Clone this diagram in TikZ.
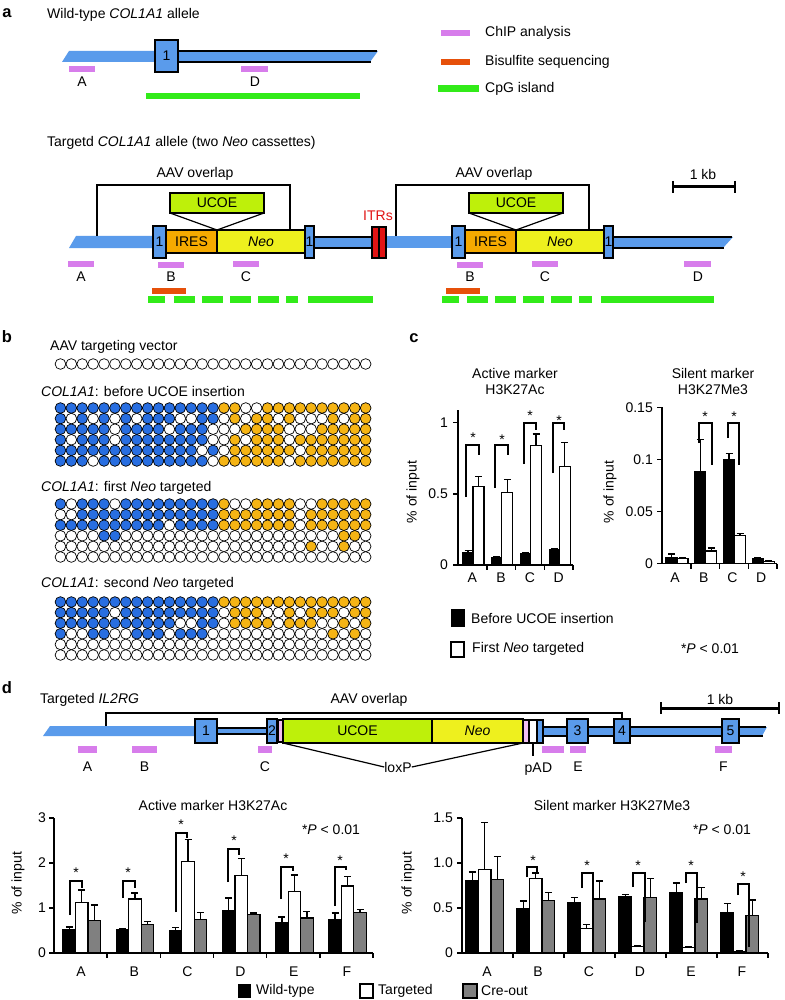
\documentclass[tikz,border=0pt]{standalone}
\usepackage{fontspec}
\setmainfont{Liberation Sans}
\definecolor{gblue}{RGB}{90,155,235}
\definecolor{chipc}{RGB}{215,125,235}
\definecolor{bisc}{RGB}{230,80,10}
\definecolor{cpgc}{RGB}{50,235,25}
\definecolor{ucoec}{RGB}{190,240,10}
\definecolor{neoc}{RGB}{238,240,30}
\definecolor{iresc}{RGB}{245,170,0}
\definecolor{itrc}{RGB}{225,20,20}
\definecolor{mblue}{RGB}{40,110,225}
\definecolor{morange}{RGB}{245,180,20}
\definecolor{barg}{RGB}{128,128,128}
\definecolor{loxc}{RGB}{240,190,240}
\newcommand\mybar[7]{%
  \pgfmathsetmacro\myyt{#3-#4*#5}%
  \pgfmathsetmacro\myye{#3-#4*#6}%
  \pgfmathsetmacro\myxl{#1}%
  \pgfmathsetmacro\myxc{#1+#2/2}%
  \pgfmathsetmacro\myxr{#1+#2}%
  \draw[errb] (\myxc,\myyt) -- (\myxc,\myye) (\myxc-3.5,\myye) -- (\myxc+3.5,\myye);%
  \draw[barb, fill=#7] (\myxl,#3) rectangle (\myxr,\myyt);%
}
\newcommand\sigbr[7]{%
  \draw[brk] (#1,#2) -- (#1,#3) -- (#4,#3) -- (#4,#5);%
  \node[txt] at (#6,#7+3) {*};%
}
\newcommand\mgrid[2]{%
  \foreach \row [count=\ri] in {#2} {%
    \foreach \v [count=\ci] in \row {%
      \ifnum\v=1\relax \ifnum\ci<16\relax \def\mycc{mblue}\else\def\mycc{morange}\fi\else\def\mycc{white}\fi
      \filldraw[fill=\mycc, cir] ({60.45+10.9*(\ci-1)},{#1+10.6*(\ri-1)}) circle[radius=5.35pt];
    }%
  }%
}
\begin{document}
\begin{tikzpicture}[x=1pt,y=-1pt,
  txt/.style={font=\fontsize{14}{16}\selectfont, inner sep=0pt},
  txtw/.style={txt, anchor=west},
  pnl/.style={font=\bfseries\fontsize{16.5}{18}\selectfont, inner sep=0pt},
  ol/.style={draw=black, line width=1.5pt},
  exon/.style={ol, fill=gblue},
  brk/.style={draw=black, line width=1.3pt},
  conn/.style={draw=black, line width=1.2pt},
  errb/.style={draw=black, line width=1.4pt},
  barb/.style={draw=black, line width=1.2pt},
  axl/.style={draw=black, line width=1.5pt},
  cir/.style={draw=black, line width=0.7pt}]
\useasboundingbox (0,0) rectangle (784,1000);
\fill[white] (0,0) rectangle (784,1000);

% ================= Panel a =================
\node[pnl] (la) at (7,13) {a};
\node[txtw] (wtt) at (47,15) {Wild-type \textit{COL1A1} allele};
\fill[gblue] (62,62) -- (69,51) -- (156,51) -- (156,62) -- cycle;
\fill[gblue] (178,51) -- (378,51) -- (370,62) -- (178,62) -- cycle;
\draw[ol] (178,51) -- (377,51) (178,62) -- (370.5,62);
\draw[exon] (155,40) rectangle (178,72);
\node[txt] (wex) at (166.5,56) {1};
\fill[chipc] (69,66) rectangle (95,72);
\node[txt] (wA) at (82,82) {A};
\fill[chipc] (241,66) rectangle (268,72);
\node[txt] (wD) at (255,82) {D};
\fill[cpgc] (146,93) rectangle (360,99);

% legend
\fill[chipc] (441,30) rectangle (470,36);
\node[txtw] (lg1) at (485,33) {ChIP analysis};
\fill[bisc] (441,59) rectangle (470,65);
\node[txtw] (lg2) at (485,62) {Bisulfite sequencing};
\fill[cpgc] (438,85) rectangle (479,92);
\node[txtw] (lg3) at (485,89) {CpG island};

% targeted allele
\node[txtw] (tgt) at (47,143) {Targetd \textit{COL1A1} allele (two \textit{Neo} cassettes)};
\fill[gblue] (69,248) -- (76,236) -- (153,236) -- (153,248) -- cycle;
\fill[gblue] (314,237) rectangle (372,248);
\draw[ol] (314,237) -- (372,237) (314,248) -- (372,248);
\fill[gblue] (386,236) rectangle (452,248);
\fill[gblue] (612,237) -- (733,237) -- (723,248) -- (612,248) -- cycle;
\draw[ol] (612,237) -- (732,237) (612,248) -- (723.5,248);
\draw[ol, fill=itrc] (372,227) rectangle (379,258);
\draw[ol, fill=itrc] (379,227) rectangle (386,258);
\node[txt, text=itrc] (itr) at (378,216) {ITRs};

\foreach \dx in {0,299} {
\begin{scope}[xshift=\dx pt]
\draw[brk] (97,236) -- (97,185) -- (290,185) -- (290,230);
\node[txt] (aav) at (195,174) {AAV overlap};
\draw[ol, fill=ucoec] (170,193) rectangle (264,213);
\node[txt] (uc) at (217,203) {UCOE};
\draw[conn] (170,213) -- (217,230) -- (264,213);
\draw[ol, fill=iresc] (166,230) rectangle (217,253);
\node[txt] (ir) at (191.5,241.5) {IRES};
\draw[ol, fill=neoc] (217,230) rectangle (305,253);
\node[txt] (ne) at (261,241.5) {\textit{Neo}};
\draw[exon] (153,226) rectangle (166,258);
\node[txt] (e1) at (159.5,242) {1};
\draw[exon] (305,226) rectangle (314,258);
\node[txt] (e2) at (309.5,242) {1};
\fill[chipc] (158,262) rectangle (184,268);
\node[txt] (lb) at (171,277) {B};
\fill[chipc] (233,261) rectangle (259,267);
\node[txt] (lc) at (246,277) {C};
\end{scope}
}
\fill[chipc] (68,261) rectangle (94,267);
\node[txt] (tA) at (81,277) {A};
\fill[chipc] (684,261) rectangle (711,267);
\node[txt] (tD) at (698,277) {D};
\fill[bisc] (152,288) rectangle (186,294);
\fill[bisc] (446,288) rectangle (480,294);
\foreach \a/\b in {148/165,174/195,202/223,230/251,258/279,286/298,308/373,442/459,467/488,495/516,523/544,551/572,579/592,601/714}
  \fill[cpgc] (\a,296) rectangle (\b,303);
\draw[line width=3pt] (673,187) -- (735,187);
\draw[line width=2.5pt] (673,181) -- (673,193) (735,181) -- (735,193);
\node[txt] (kb1) at (703,174) {1 kb};

% ================= Panel b =================
\node[pnl] (lbb) at (7,337) {b};
\node[txtw] (bt1) at (50,347) {AAV targeting vector};
\foreach \ci in {1,...,29} \filldraw[fill=white, cir] ({60.45+10.9*(\ci-1)},364) circle[radius=5.35pt];
\node[txtw] (bt2) at (41,391) {\textit{COL1A1}: before UCOE insertion};
\mgrid{408}{%
{1,1,1,1,1,1,1,1,1,1,1,1,1,1,1,1,1,0,0,1,1,1,1,1,1,1,1,1,1},%
{1,0,1,0,1,0,1,0,1,1,1,0,0,1,1,0,1,0,1,1,0,1,0,0,0,1,0,1,1},%
{1,1,1,1,1,0,1,1,1,1,0,1,1,1,0,0,0,1,1,1,1,0,0,0,1,1,1,1,1},%
{1,0,1,1,1,0,1,1,1,1,1,1,1,1,0,0,1,0,1,1,1,0,1,1,1,1,1,1,1},%
{1,1,1,1,1,1,1,1,1,1,1,1,1,0,1,0,1,1,1,1,1,1,0,1,1,1,1,1,1},%
{1,1,1,0,1,1,1,1,1,1,1,1,1,1,0,1,1,1,1,1,1,0,1,1,1,1,1,1,1}}
\node[txtw] (bt3) at (41,488) {\textit{COL1A1}: first \textit{Neo} targeted};
\mgrid{504}{%
{1,0,1,1,1,0,1,1,1,1,1,1,1,1,1,1,0,0,1,1,1,1,0,0,1,1,1,1,1},%
{0,0,1,1,1,1,1,1,1,1,1,1,1,1,1,1,1,1,1,1,1,1,0,1,1,1,1,1,1},%
{1,1,1,1,1,1,1,1,1,1,0,1,1,1,1,1,1,1,1,1,1,1,0,1,1,1,1,1,1},%
{0,0,0,0,1,1,0,0,0,0,0,0,0,0,0,0,0,0,0,0,0,0,0,0,0,0,1,1,0},%
{0,0,0,0,0,0,0,0,0,0,0,0,0,0,0,0,0,0,0,0,0,0,0,1,0,0,1,0,0},%
{0,0,0,0,0,0,0,0,0,0,0,0,0,0,0,0,0,0,0,0,0,0,0,0,0,0,0,0,0}}
\node[txtw] (bt4) at (41,584) {\textit{COL1A1}: second \textit{Neo} targeted};
\mgrid{602}{%
{1,1,1,1,1,1,1,1,1,1,1,1,1,1,1,1,1,1,1,1,1,1,1,1,1,1,1,1,1},%
{1,1,1,1,1,0,1,1,1,1,1,1,1,1,1,0,1,1,1,0,0,1,0,1,1,1,0,1,1},%
{1,1,1,1,1,1,1,1,1,1,1,0,0,1,1,0,1,1,1,1,0,1,1,1,0,0,1,0,1},%
{1,0,0,1,1,0,0,1,1,1,0,1,1,1,0,0,0,0,0,0,0,0,0,0,0,1,0,1,0},%
{0,0,0,0,0,0,0,0,0,0,0,0,0,0,0,0,0,0,0,0,0,0,0,0,0,0,0,0,0},%
{0,0,0,0,0,0,0,0,0,0,0,0,0,0,0,0,0,0,0,0,0,0,0,0,0,0,0,0,0}}

% ================= Panel c =================
\node[pnl] (lcc) at (414,338) {c};
\node[txt] (ct1) at (515,373) {Active marker};
\node[txt] (ct2) at (515,390) {H3K27Ac};
\node[txt] (ct3) at (713,373) {Silent marker};
\node[txt] (ct4) at (713,390) {H3K27Me3};
\node[txt, rotate=90] (cy1) at (413,492) {\% of input};
\node[txt, rotate=90] (cy2) at (610,492) {\% of input};
% left chart
\foreach \i/\bv/\be/\wv/\we in {0/0.09/0.1/0.55/0.62,1/0.05/0.06/0.51/0.60,2/0.08/0.085/0.84/0.92,3/0.11/0.115/0.69/0.86} {
  \mybar{458+28.75*\i+5}{10}{565}{142.3}{\bv}{\be}{black}
  \mybar{458+28.75*\i+15}{11}{565}{142.3}{\wv}{\we}{white}
}
\draw[axl] (458,410) -- (458,565) -- (573,565);
\foreach \v/\lab in {0/0,0.5/0.5,1/1} {
  \draw[axl] (453,{565-142.3*\v}) -- (458,{565-142.3*\v});
  \node[txt,anchor=east] at (448,{565-142.3*\v}) {\lab};
}
\foreach \i in {1,...,4} \draw[axl] ({458+28.75*\i},565) -- ({458+28.75*\i},570);
\foreach \i/\lab in {0/A,1/B,2/C,3/D} \node[txt] at ({458+28.75*\i+14.4},578) {\lab};
\sigbr{466}{497}{445}{479}{455}{473}{435}
\sigbr{495}{488}{445}{508}{455}{502}{437}
\sigbr{524}{464}{423}{536}{430}{530}{413}
\sigbr{553}{473}{423}{564}{430}{559}{418}
% right chart
\foreach \i/\bv/\be/\wv/\we in {0/0.006/0.009/0.005/0.006,1/0.088/0.119/0.012/0.015,2/0.1/0.106/0.027/0.029,3/0.005/0.006/0.002/0.003} {
  \mybar{662+28.75*\i+4}{11}{563.5}{1040}{\bv}{\be}{black}
  \mybar{662+28.75*\i+15}{11}{563.5}{1040}{\wv}{\we}{white}
}
\draw[axl] (662,407) -- (662,563.5) -- (777,563.5);
\foreach \v/\lab in {0/0,0.05/0.05,0.1/0.1,0.15/0.15} {
  \draw[axl] (657,{563.5-1040*\v}) -- (662,{563.5-1040*\v});
  \node[txt,anchor=east] at (653,{563.5-1040*\v}) {\lab};
}
\foreach \i in {1,...,4} \draw[axl] ({662+28.75*\i},563.5) -- ({662+28.75*\i},568.5);
\foreach \i/\lab in {0/A,1/B,2/C,3/D} \node[txt] at ({662+28.75*\i+13},578) {\lab};
\sigbr{699}{443}{423}{712}{465}{705}{414}
\sigbr{728}{438}{423}{739}{465}{734}{414}
% legend
\fill[black] (451,609) rectangle (465,627);
\node[txtw] (cl1) at (471,618) {Before UCOE insertion};
\draw[barb, fill=white] (451,642) rectangle (464,657);
\node[txtw] (cl2) at (472,649) {First \textit{Neo} targeted};
\node[txt] (cp) at (710,649) {*\textit{P} < 0.01};

% ================= Panel d =================
\node[pnl] (ldd) at (7,688) {d};
\node[txtw] (dt1) at (40,700) {Targeted \textit{IL2RG}};
\node[txt] (daav) at (369,700) {AAV overlap};
\draw[brk] (106,726) -- (106,713) -- (622,713) -- (622,719);
\fill[gblue] (43,736) -- (50,726) -- (195,726) -- (195,736) -- cycle;
\fill[gblue] (217,728) rectangle (267,734);
\draw[ol] (217,728) -- (267,728) (217,734) -- (267,734);
\fill[gblue] (543,727) -- (767,727) -- (762,736) -- (543,736) -- cycle;
\draw[ol] (543,727) -- (766,727) (543,736) -- (762.5,736);
\draw[exon] (195,719) rectangle (217,743);
\node[txt] (d1) at (206,731) {1};
\draw[exon] (267,719) rectangle (277,743);
\node[txt] (d2) at (272,731) {2};
\draw[ol, fill=loxc] (278.5,720) rectangle (283,742);
\draw[ol, fill=ucoec] (283,719) rectangle (432,743);
\node[txt] (duc) at (357.5,731) {UCOE};
\draw[ol, fill=neoc] (432,719) rectangle (523,743);
\node[txt] (dne) at (477.5,731) {\textit{Neo}};
\draw[ol, fill=loxc] (523,720) rectangle (529,743);
\draw[ol, fill=white] (529,720) rectangle (537,743);
\draw[ol, fill=gblue] (537,720) rectangle (543,743);
\draw[exon] (567,719) rectangle (588,743);
\node[txt] (d3) at (577.5,731) {3};
\draw[exon] (614,719) rectangle (630,743);
\node[txt] (d4) at (622,731) {4};
\draw[exon] (722,719) rectangle (739,743);
\node[txt] (d5) at (730.5,731) {5};
\draw[line width=3pt] (661,708) -- (779,708);
\draw[line width=2.5pt] (661,702) -- (661,714) (779,702) -- (779,714);
\node[txt] (kb2) at (720,699) {1 kb};
\foreach \a/\b in {78/97,132/157,258/272,542/564,570/586,715/732}
  \fill[chipc] (\a,746) rectangle (\b,753);
\node[txt] (dA) at (87.5,767) {A};
\node[txt] (dB) at (144.5,767) {B};
\node[txt] (dC) at (265,767) {C};
\node[txt] (dE) at (578,767) {E};
\node[txt] (dF) at (723.5,767) {F};
\node[txt] (lox) at (398,767) {loxP};
\draw[conn] (283,743) -- (lox.west);
\draw[conn] (523,743) -- (lox.east);
\node[txt, anchor=base east] (pa) at (542,772) {pA};
\node[txt, anchor=base west] (dD) at (pa.base east) {D};
\coordinate (pat) at (533,743);
\draw[conn] (pat) -- ++(0,13);

% left chart d
\node[txt] (dct1) at (213,805) {Active marker H3K27Ac};
\node[txt, rotate=90] (dy1) at (18,883) {\% of input};
\foreach \i/\bv/\be/\wv/\we/\gv/\ge in {0/0.53/0.58/1.12/1.40/0.72/1.07,1/0.52/0.53/1.20/1.33/0.63/0.70,2/0.50/0.57/2.03/2.52/0.74/0.90,3/0.95/1.22/1.72/2.10/0.86/0.89,4/0.68/0.80/1.37/1.73/0.78/0.92,5/0.75/0.89/1.49/1.70/0.90/0.97} {
  \mybar{54+53.17*\i+9}{12.5}{953}{45}{\bv}{\be}{black}
  \mybar{54+53.17*\i+21.5}{12.5}{953}{45}{\wv}{\we}{white}
  \mybar{54+53.17*\i+34}{12.5}{953}{45}{\gv}{\ge}{barg}
}
\draw[axl] (54,818) -- (54,953) -- (373,953);
\foreach \v in {0,1,2,3} {
  \draw[axl] (49,{953-45*\v}) -- (54,{953-45*\v});
  \node[txt,anchor=east] at (46,{953-45*\v}) {\v};
}
\foreach \i in {1,...,6} \draw[axl] ({54+53.17*\i},953) -- ({54+53.17*\i},958);
\foreach \i/\lab in {0/A,1/B,2/C,3/D,4/E,5/F} \node[txt] at ({54+53.17*\i+27},972) {\lab};
\sigbr{70}{915}{881}{82}{888}{76}{870}
\sigbr{123}{898}{881}{135}{888}{128}{870}
\sigbr{176}{912}{833}{187}{838}{181}{822}
\sigbr{228}{882}{849}{239}{855}{234}{838}
\sigbr{281}{899}{867}{293}{871}{286}{856}
\sigbr{335}{906}{867}{346}{870}{340}{858}
\node[txt] (dp1) at (331,830) {*\textit{P} < 0.01};

% right chart d
\node[txt] (dct2) at (612,805) {Silent marker H3K27Me3};
\node[txt, rotate=90] (dy2) at (408,883) {\% of input};
\foreach \i/\bv/\be/\wv/\we/\gv/\ge in {0/0.80/0.90/0.93/1.45/0.82/1.07,1/0.49/0.58/0.83/0.89/0.58/0.67,2/0.56/0.62/0.27/0.32/0.60/0.80,3/0.63/0.65/0.07/0.08/0.62/0.83,4/0.67/0.78/0.06/0.07/0.60/0.73,5/0.45/0.55/0.02/0.03/0.42/0.59} {
  \mybar{462+51*\i+4}{12.5}{953}{90}{\bv}{\be}{black}
  \mybar{462+51*\i+16.5}{12.5}{953}{90}{\wv}{\we}{white}
  \mybar{462+51*\i+29}{12.5}{953}{90}{\gv}{\ge}{barg}
}
\draw[axl] (462,818) -- (462,953) -- (768,953);
\foreach \v/\lab in {0/0,0.5/0.5,1/1.0,1.5/1.5} {
  \draw[axl] (457,{953-90*\v}) -- (462,{953-90*\v});
  \node[txt,anchor=east] at (453,{953-90*\v}) {\lab};
}
\foreach \i in {1,...,6} \draw[axl] ({462+51*\i},953) -- ({462+51*\i},958);
\foreach \i/\lab in {0/A,1/B,2/C,3/D,4/E,5/F} \node[txt] at ({462+51*\i+25},972) {\lab};
\sigbr{527}{877}{867}{537}{872}{533}{858}
\sigbr{582}{888}{873}{593}{925}{587}{863}
\sigbr{633}{887}{873}{645}{922}{638}{863}
\sigbr{686}{883}{873}{697}{923}{691}{863}
\sigbr{738}{895}{884}{749}{947}{743}{874}
\node[txt] (dp2) at (722,830) {*\textit{P} < 0.01};

% legend d
\fill[black] (238,984) rectangle (251,998);
\node[txtw] (dl1) at (256,991) {Wild-type};
\draw[barb, fill=white] (360,984) rectangle (373,998);
\node[txtw] (dl2) at (378,991) {Targeted};
\draw[barb, fill=barg] (463,984) rectangle (477,998);
\node[txtw] (dl3) at (481,991) {Cre-out};
\end{tikzpicture}
\end{document}
